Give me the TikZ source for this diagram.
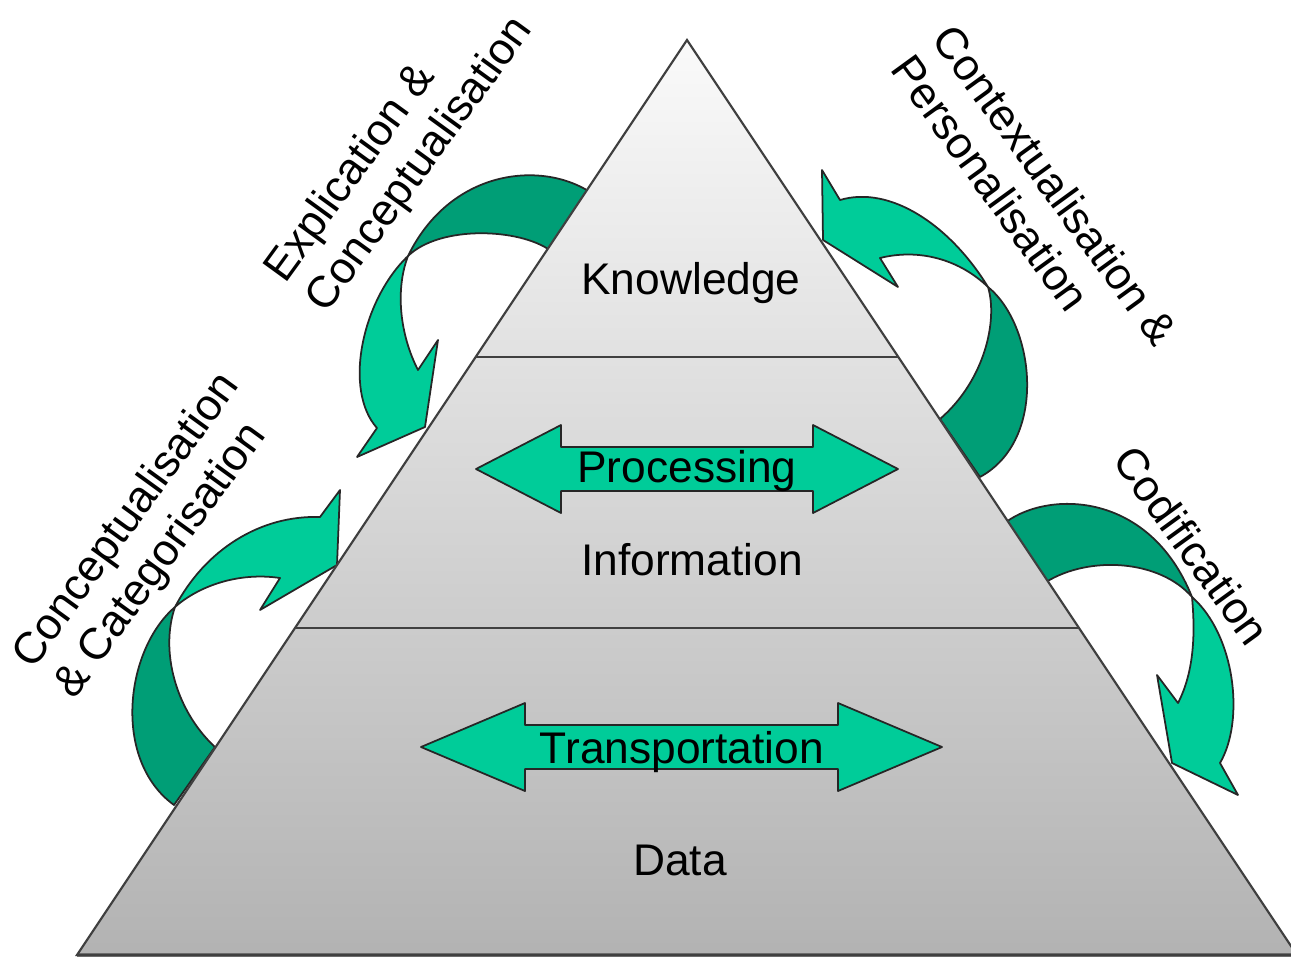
\documentclass[tikz,border=0pt]{standalone}
\usepackage{fontspec}
\setmainfont{Liberation Sans}
\definecolor{lightgreen}{RGB}{0,204,153}
\definecolor{darkgreen}{RGB}{0,158,118}
\tikzstyle{band} = [draw=black!85, line width=0.5pt, line join=round]
\tikzstyle{front} = [band, fill=lightgreen]
\tikzstyle{back} = [band, fill=darkgreen]
\tikzstyle{edge} = [draw=black!75, line width=0.6pt]
\tikzstyle{caption} = [align=left, inner sep=0pt]
% double headed arrow: centre x, centre y, half length, head length
\newcommand\twoway[4]{%
	\draw[front] ({#1-#3},#2) -- ({#1-#3+#4},{#2-44}) -- ({#1-#3+#4},{#2-22})
		-- ({#1+#3-#4},{#2-22}) -- ({#1+#3-#4},{#2-44}) -- ({#1+#3},#2)
		-- ({#1+#3-#4},{#2+44}) -- ({#1+#3-#4},{#2+22})
		-- ({#1-#3+#4},{#2+22}) -- ({#1-#3+#4},{#2+44}) -- cycle;%
}
\tikzset{every node/.style={font=\fontsize{12.6}{14.5}\selectfont}}

\begin{document}
\begin{tikzpicture}[x=0.01cm, y=-0.01cm]
\useasboundingbox (0,0) rectangle (1291,960);

% Curved arrows round the pyramid
\draw[back] (590,192) .. controls (540,160) and (450,170) .. (408,256)
	.. controls (440,225) and (520,228) .. (551,251) -- cycle;
\draw[front] (408,256) .. controls (362,300) and (343,390) .. (377,428)
	-- (357,457) -- (425,427) -- (438,340) -- (418,370)
	.. controls (400,335) and (395,290) .. (408,256) -- cycle;

\draw[front] (988,287) .. controls (950,225) and (890,185) .. (840,200)
	-- (822,170) -- (823,240) -- (898,287) -- (880,258)
	.. controls (920,248) and (960,260) .. (988,287) -- cycle;
\draw[back] (988,287) .. controls (1035,325) and (1048,440) .. (980,477)
	-- (940,419) .. controls (985,380) and (998,320) .. (988,287) -- cycle;

\draw[back] (1006,522) .. controls (1050,490) and (1150,492) .. (1192,597)
	.. controls (1160,560) and (1090,555) .. (1046,582) -- cycle;
\draw[front] (1192,597) .. controls (1235,635) and (1245,720) .. (1220,763)
	-- (1238,795) -- (1172,763) -- (1157,675) -- (1178,703)
	.. controls (1195,670) and (1195,630) .. (1192,597) -- cycle;

\draw[front] (175,607) .. controls (205,550) and (260,515) .. (320,517)
	-- (340,490) -- (337,565) -- (260,610) -- (280,578)
	.. controls (240,572) and (200,585) .. (175,607) -- cycle;
\draw[back] (175,607) .. controls (125,650) and (112,760) .. (174,805)
	-- (215,747) .. controls (175,710) and (160,650) .. (175,607) -- cycle;

% Pyramid
\coordinate (apex) at (687,40);
\coordinate (bl) at (77,955);
\coordinate (br) at (1297,955);
\shade[top color=black!2, bottom color=black!30] (apex) -- (bl) -- (br) -- cycle;
\draw[black!55, line width=1.2pt] (bl) -- (br);
\draw[edge] (apex) -- (bl) -- (br) -- cycle;
\draw[edge] (475.7,357) -- (898.3,357);
\draw[edge] (295,628) -- (1079,628);

% Double arrows inside the pyramid
\twoway{687}{469}{211}{85}
\twoway{681.5}{747}{260.5}{104}

% Labels
\node (know) at (691,283) {Knowledge};
\node (info) at (692,560) {Information};
\node (data) at (680,860) {Data};
\node (proc) at (687,471) {Processing};
\node (trans) at (682,752) {Transportation};

\node (explic) [caption, rotate=54] at (400,150) {Explication \&\\Conceptualisation};
\node (context) [caption, rotate=-54] at (1035,200) {Contextualisation \&\\Personalisation};
\node (categ) [caption, rotate=54] at (148,536) {Conceptualisation\\\& Categorisation};
\node (codif) [caption, rotate=-54] at (1192,545) {Codification};

\end{tikzpicture}
\end{document}
